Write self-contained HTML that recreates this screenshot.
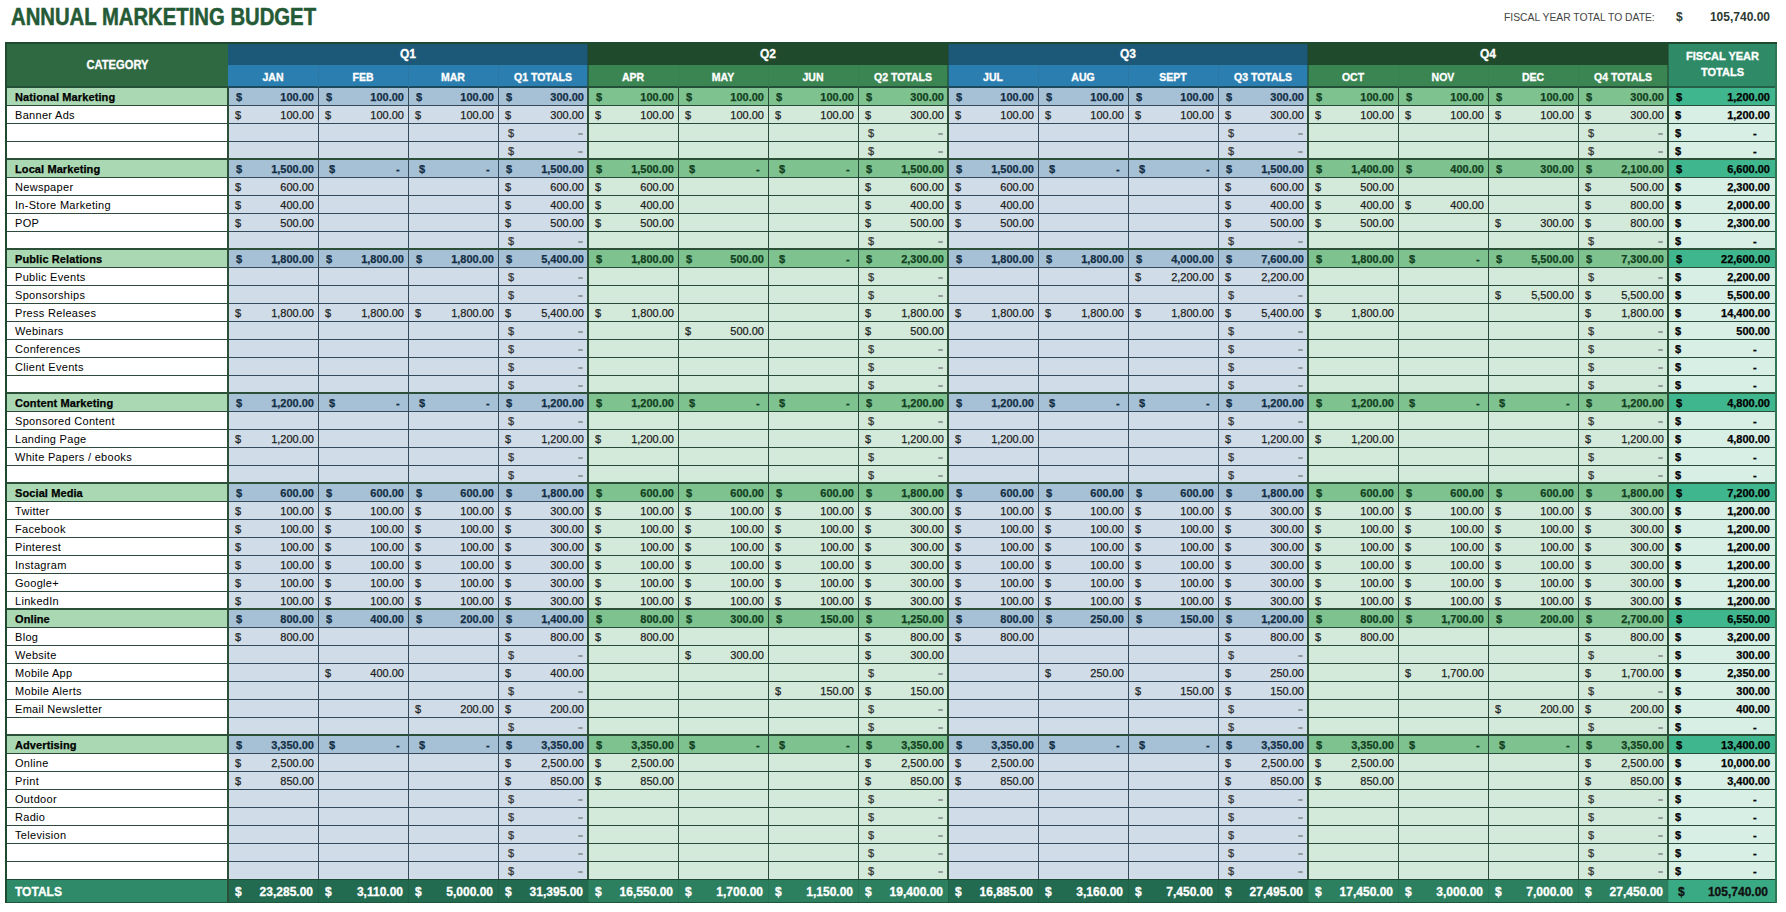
<!DOCTYPE html><html><head><meta charset="utf-8"><style>
*{margin:0;padding:0;box-sizing:border-box}
html,body{width:1786px;height:912px;overflow:hidden;background:#fff;font-family:"Liberation Sans",sans-serif;position:relative}
div,p,span{position:absolute}
.h{color:#fff;-webkit-text-stroke:0.3px #fff;font-weight:bold;font-size:10.5px;text-align:center;line-height:22px;height:22px}
.w{height:18px;line-height:18px;font-size:11px;white-space:nowrap;-webkit-text-stroke:0.25px currentColor}
.L{left:15px;letter-spacing:0.3px}
.L.B{letter-spacing:0.1px}
.L.W{-webkit-text-stroke:0}
.d{}
.n{text-align:right}
.B{font-weight:bold}
.bt{color:#142f45;font-weight:bold}
.gt{color:#124020;font-weight:bold}
.it{color:#1e1e1e}
.em{color:#333}
.ds{width:5px;height:2px;background:#949c9e;border-radius:1px}
.T{height:24px;line-height:26px;font-size:12px;font-weight:bold;color:#fff;white-space:nowrap;-webkit-text-stroke:0.3px currentColor}
</style></head><body>
<div style="left:11px;top:4px;font-size:23px;font-weight:bold;color:#245a36;line-height:26px;white-space:nowrap;transform:scaleX(0.882);transform-origin:0 0;-webkit-text-stroke:0.5px #245a36">ANNUAL MARKETING BUDGET</div>
<div style="left:1504px;top:9px;font-size:11px;color:#444;line-height:16px;white-space:nowrap;transform:scaleX(0.94);transform-origin:0 0">FISCAL YEAR TOTAL TO DATE:</div>
<div style="left:1676px;top:9px;font-size:12px;font-weight:bold;color:#2c3a32;line-height:16px">$</div>
<div style="left:1690px;width:80px;text-align:right;top:9px;font-size:12px;font-weight:bold;color:#2c3a32;line-height:16px">105,740.00</div>
<div style="left:5px;top:42px;width:223px;height:45px;background:#2e6941"></div>
<div style="left:228px;top:42px;width:360px;height:23px;background:#1c5878"></div>
<div style="left:228px;top:65px;width:360px;height:22px;background:#2b7eb0"></div>
<div style="left:588px;top:42px;width:360px;height:23px;background:#1f4a2b"></div>
<div style="left:588px;top:65px;width:360px;height:22px;background:#3a8552"></div>
<div style="left:948px;top:42px;width:360px;height:23px;background:#1c5878"></div>
<div style="left:948px;top:65px;width:360px;height:22px;background:#2b7eb0"></div>
<div style="left:1308px;top:42px;width:360px;height:23px;background:#1f4a2b"></div>
<div style="left:1308px;top:65px;width:360px;height:22px;background:#3a8552"></div>
<div style="left:1668px;top:42px;width:109px;height:45px;background:#2f8a68"></div>
<div style="left:5px;top:87px;width:223px;height:792px;background:#ffffff"></div>
<div style="left:228px;top:87px;width:360px;height:792px;background:#d0dde8"></div>
<div style="left:588px;top:87px;width:360px;height:792px;background:#d3eada"></div>
<div style="left:948px;top:87px;width:360px;height:792px;background:#d0dde8"></div>
<div style="left:1308px;top:87px;width:360px;height:792px;background:#d3eada"></div>
<div style="left:1668px;top:87px;width:109px;height:792px;background:#d8efe6"></div>
<div style="left:5px;top:87px;width:1772px;height:18px;background:linear-gradient(to right,#a9d8b2 0,#a9d8b2 223px,#a6c1d6 223px,#a6c1d6 583px,#7ec290 583px,#7ec290 943px,#a6c1d6 943px,#a6c1d6 1303px,#7ec290 1303px,#7ec290 1663px,#3fb68e 1663px)"></div>
<div style="left:5px;top:159px;width:1772px;height:18px;background:linear-gradient(to right,#a9d8b2 0,#a9d8b2 223px,#a6c1d6 223px,#a6c1d6 583px,#7ec290 583px,#7ec290 943px,#a6c1d6 943px,#a6c1d6 1303px,#7ec290 1303px,#7ec290 1663px,#3fb68e 1663px)"></div>
<div style="left:5px;top:249px;width:1772px;height:18px;background:linear-gradient(to right,#a9d8b2 0,#a9d8b2 223px,#a6c1d6 223px,#a6c1d6 583px,#7ec290 583px,#7ec290 943px,#a6c1d6 943px,#a6c1d6 1303px,#7ec290 1303px,#7ec290 1663px,#3fb68e 1663px)"></div>
<div style="left:5px;top:393px;width:1772px;height:18px;background:linear-gradient(to right,#a9d8b2 0,#a9d8b2 223px,#a6c1d6 223px,#a6c1d6 583px,#7ec290 583px,#7ec290 943px,#a6c1d6 943px,#a6c1d6 1303px,#7ec290 1303px,#7ec290 1663px,#3fb68e 1663px)"></div>
<div style="left:5px;top:483px;width:1772px;height:18px;background:linear-gradient(to right,#a9d8b2 0,#a9d8b2 223px,#a6c1d6 223px,#a6c1d6 583px,#7ec290 583px,#7ec290 943px,#a6c1d6 943px,#a6c1d6 1303px,#7ec290 1303px,#7ec290 1663px,#3fb68e 1663px)"></div>
<div style="left:5px;top:609px;width:1772px;height:18px;background:linear-gradient(to right,#a9d8b2 0,#a9d8b2 223px,#a6c1d6 223px,#a6c1d6 583px,#7ec290 583px,#7ec290 943px,#a6c1d6 943px,#a6c1d6 1303px,#7ec290 1303px,#7ec290 1663px,#3fb68e 1663px)"></div>
<div style="left:5px;top:735px;width:1772px;height:18px;background:linear-gradient(to right,#a9d8b2 0,#a9d8b2 223px,#a6c1d6 223px,#a6c1d6 583px,#7ec290 583px,#7ec290 943px,#a6c1d6 943px,#a6c1d6 1303px,#7ec290 1303px,#7ec290 1663px,#3fb68e 1663px)"></div>
<div style="left:5px;top:879px;width:1772px;height:24px;background:linear-gradient(to right,#2e8a68 0,#2e8a68 223px,#226a50 223px,#226a50 583px,#2c8060 583px,#2c8060 943px,#226a50 943px,#226a50 1303px,#2c8060 1303px,#2c8060 1663px,#3aaa85 1663px)"></div>
<div style="left:5px;top:86px;width:1772px;height:2px;background:linear-gradient(to right,#24503a 0,#24503a 223px,#1f4a5e 223px,#1f4a5e 583px,#24503a 583px,#24503a 943px,#1f4a5e 943px,#1f4a5e 1303px,#24503a 1303px,#24503a 1663px,#24604a 1663px)"></div>
<div style="left:5px;top:105px;width:1772px;height:1px;background:linear-gradient(to right,#2e4a3c 0,#2e4a3c 223px,#34495a 223px,#34495a 583px,#28483a 583px,#28483a 943px,#34495a 943px,#34495a 1303px,#28483a 1303px,#28483a 1663px,#2a4c3c 1663px)"></div>
<div style="left:5px;top:123px;width:1772px;height:1px;background:linear-gradient(to right,#2e4a3c 0,#2e4a3c 223px,#34495a 223px,#34495a 583px,#28483a 583px,#28483a 943px,#34495a 943px,#34495a 1303px,#28483a 1303px,#28483a 1663px,#2a4c3c 1663px)"></div>
<div style="left:5px;top:141px;width:1772px;height:1px;background:linear-gradient(to right,#2e4a3c 0,#2e4a3c 223px,#34495a 223px,#34495a 583px,#28483a 583px,#28483a 943px,#34495a 943px,#34495a 1303px,#28483a 1303px,#28483a 1663px,#2a4c3c 1663px)"></div>
<div style="left:5px;top:158px;width:1772px;height:2px;background:#2c4f37"></div>
<div style="left:5px;top:177px;width:1772px;height:1px;background:linear-gradient(to right,#2e4a3c 0,#2e4a3c 223px,#34495a 223px,#34495a 583px,#28483a 583px,#28483a 943px,#34495a 943px,#34495a 1303px,#28483a 1303px,#28483a 1663px,#2a4c3c 1663px)"></div>
<div style="left:5px;top:195px;width:1772px;height:1px;background:linear-gradient(to right,#2e4a3c 0,#2e4a3c 223px,#34495a 223px,#34495a 583px,#28483a 583px,#28483a 943px,#34495a 943px,#34495a 1303px,#28483a 1303px,#28483a 1663px,#2a4c3c 1663px)"></div>
<div style="left:5px;top:213px;width:1772px;height:1px;background:linear-gradient(to right,#2e4a3c 0,#2e4a3c 223px,#34495a 223px,#34495a 583px,#28483a 583px,#28483a 943px,#34495a 943px,#34495a 1303px,#28483a 1303px,#28483a 1663px,#2a4c3c 1663px)"></div>
<div style="left:5px;top:231px;width:1772px;height:1px;background:linear-gradient(to right,#2e4a3c 0,#2e4a3c 223px,#34495a 223px,#34495a 583px,#28483a 583px,#28483a 943px,#34495a 943px,#34495a 1303px,#28483a 1303px,#28483a 1663px,#2a4c3c 1663px)"></div>
<div style="left:5px;top:248px;width:1772px;height:2px;background:#2c4f37"></div>
<div style="left:5px;top:267px;width:1772px;height:1px;background:linear-gradient(to right,#2e4a3c 0,#2e4a3c 223px,#34495a 223px,#34495a 583px,#28483a 583px,#28483a 943px,#34495a 943px,#34495a 1303px,#28483a 1303px,#28483a 1663px,#2a4c3c 1663px)"></div>
<div style="left:5px;top:285px;width:1772px;height:1px;background:linear-gradient(to right,#2e4a3c 0,#2e4a3c 223px,#34495a 223px,#34495a 583px,#28483a 583px,#28483a 943px,#34495a 943px,#34495a 1303px,#28483a 1303px,#28483a 1663px,#2a4c3c 1663px)"></div>
<div style="left:5px;top:303px;width:1772px;height:1px;background:linear-gradient(to right,#2e4a3c 0,#2e4a3c 223px,#34495a 223px,#34495a 583px,#28483a 583px,#28483a 943px,#34495a 943px,#34495a 1303px,#28483a 1303px,#28483a 1663px,#2a4c3c 1663px)"></div>
<div style="left:5px;top:321px;width:1772px;height:1px;background:linear-gradient(to right,#2e4a3c 0,#2e4a3c 223px,#34495a 223px,#34495a 583px,#28483a 583px,#28483a 943px,#34495a 943px,#34495a 1303px,#28483a 1303px,#28483a 1663px,#2a4c3c 1663px)"></div>
<div style="left:5px;top:339px;width:1772px;height:1px;background:linear-gradient(to right,#2e4a3c 0,#2e4a3c 223px,#34495a 223px,#34495a 583px,#28483a 583px,#28483a 943px,#34495a 943px,#34495a 1303px,#28483a 1303px,#28483a 1663px,#2a4c3c 1663px)"></div>
<div style="left:5px;top:357px;width:1772px;height:1px;background:linear-gradient(to right,#2e4a3c 0,#2e4a3c 223px,#34495a 223px,#34495a 583px,#28483a 583px,#28483a 943px,#34495a 943px,#34495a 1303px,#28483a 1303px,#28483a 1663px,#2a4c3c 1663px)"></div>
<div style="left:5px;top:375px;width:1772px;height:1px;background:linear-gradient(to right,#2e4a3c 0,#2e4a3c 223px,#34495a 223px,#34495a 583px,#28483a 583px,#28483a 943px,#34495a 943px,#34495a 1303px,#28483a 1303px,#28483a 1663px,#2a4c3c 1663px)"></div>
<div style="left:5px;top:392px;width:1772px;height:2px;background:#2c4f37"></div>
<div style="left:5px;top:411px;width:1772px;height:1px;background:linear-gradient(to right,#2e4a3c 0,#2e4a3c 223px,#34495a 223px,#34495a 583px,#28483a 583px,#28483a 943px,#34495a 943px,#34495a 1303px,#28483a 1303px,#28483a 1663px,#2a4c3c 1663px)"></div>
<div style="left:5px;top:429px;width:1772px;height:1px;background:linear-gradient(to right,#2e4a3c 0,#2e4a3c 223px,#34495a 223px,#34495a 583px,#28483a 583px,#28483a 943px,#34495a 943px,#34495a 1303px,#28483a 1303px,#28483a 1663px,#2a4c3c 1663px)"></div>
<div style="left:5px;top:447px;width:1772px;height:1px;background:linear-gradient(to right,#2e4a3c 0,#2e4a3c 223px,#34495a 223px,#34495a 583px,#28483a 583px,#28483a 943px,#34495a 943px,#34495a 1303px,#28483a 1303px,#28483a 1663px,#2a4c3c 1663px)"></div>
<div style="left:5px;top:465px;width:1772px;height:1px;background:linear-gradient(to right,#2e4a3c 0,#2e4a3c 223px,#34495a 223px,#34495a 583px,#28483a 583px,#28483a 943px,#34495a 943px,#34495a 1303px,#28483a 1303px,#28483a 1663px,#2a4c3c 1663px)"></div>
<div style="left:5px;top:482px;width:1772px;height:2px;background:#2c4f37"></div>
<div style="left:5px;top:501px;width:1772px;height:1px;background:linear-gradient(to right,#2e4a3c 0,#2e4a3c 223px,#34495a 223px,#34495a 583px,#28483a 583px,#28483a 943px,#34495a 943px,#34495a 1303px,#28483a 1303px,#28483a 1663px,#2a4c3c 1663px)"></div>
<div style="left:5px;top:519px;width:1772px;height:1px;background:linear-gradient(to right,#2e4a3c 0,#2e4a3c 223px,#34495a 223px,#34495a 583px,#28483a 583px,#28483a 943px,#34495a 943px,#34495a 1303px,#28483a 1303px,#28483a 1663px,#2a4c3c 1663px)"></div>
<div style="left:5px;top:537px;width:1772px;height:1px;background:linear-gradient(to right,#2e4a3c 0,#2e4a3c 223px,#34495a 223px,#34495a 583px,#28483a 583px,#28483a 943px,#34495a 943px,#34495a 1303px,#28483a 1303px,#28483a 1663px,#2a4c3c 1663px)"></div>
<div style="left:5px;top:555px;width:1772px;height:1px;background:linear-gradient(to right,#2e4a3c 0,#2e4a3c 223px,#34495a 223px,#34495a 583px,#28483a 583px,#28483a 943px,#34495a 943px,#34495a 1303px,#28483a 1303px,#28483a 1663px,#2a4c3c 1663px)"></div>
<div style="left:5px;top:573px;width:1772px;height:1px;background:linear-gradient(to right,#2e4a3c 0,#2e4a3c 223px,#34495a 223px,#34495a 583px,#28483a 583px,#28483a 943px,#34495a 943px,#34495a 1303px,#28483a 1303px,#28483a 1663px,#2a4c3c 1663px)"></div>
<div style="left:5px;top:591px;width:1772px;height:1px;background:linear-gradient(to right,#2e4a3c 0,#2e4a3c 223px,#34495a 223px,#34495a 583px,#28483a 583px,#28483a 943px,#34495a 943px,#34495a 1303px,#28483a 1303px,#28483a 1663px,#2a4c3c 1663px)"></div>
<div style="left:5px;top:608px;width:1772px;height:2px;background:#2c4f37"></div>
<div style="left:5px;top:627px;width:1772px;height:1px;background:linear-gradient(to right,#2e4a3c 0,#2e4a3c 223px,#34495a 223px,#34495a 583px,#28483a 583px,#28483a 943px,#34495a 943px,#34495a 1303px,#28483a 1303px,#28483a 1663px,#2a4c3c 1663px)"></div>
<div style="left:5px;top:645px;width:1772px;height:1px;background:linear-gradient(to right,#2e4a3c 0,#2e4a3c 223px,#34495a 223px,#34495a 583px,#28483a 583px,#28483a 943px,#34495a 943px,#34495a 1303px,#28483a 1303px,#28483a 1663px,#2a4c3c 1663px)"></div>
<div style="left:5px;top:663px;width:1772px;height:1px;background:linear-gradient(to right,#2e4a3c 0,#2e4a3c 223px,#34495a 223px,#34495a 583px,#28483a 583px,#28483a 943px,#34495a 943px,#34495a 1303px,#28483a 1303px,#28483a 1663px,#2a4c3c 1663px)"></div>
<div style="left:5px;top:681px;width:1772px;height:1px;background:linear-gradient(to right,#2e4a3c 0,#2e4a3c 223px,#34495a 223px,#34495a 583px,#28483a 583px,#28483a 943px,#34495a 943px,#34495a 1303px,#28483a 1303px,#28483a 1663px,#2a4c3c 1663px)"></div>
<div style="left:5px;top:699px;width:1772px;height:1px;background:linear-gradient(to right,#2e4a3c 0,#2e4a3c 223px,#34495a 223px,#34495a 583px,#28483a 583px,#28483a 943px,#34495a 943px,#34495a 1303px,#28483a 1303px,#28483a 1663px,#2a4c3c 1663px)"></div>
<div style="left:5px;top:717px;width:1772px;height:1px;background:linear-gradient(to right,#2e4a3c 0,#2e4a3c 223px,#34495a 223px,#34495a 583px,#28483a 583px,#28483a 943px,#34495a 943px,#34495a 1303px,#28483a 1303px,#28483a 1663px,#2a4c3c 1663px)"></div>
<div style="left:5px;top:734px;width:1772px;height:2px;background:#2c4f37"></div>
<div style="left:5px;top:753px;width:1772px;height:1px;background:linear-gradient(to right,#2e4a3c 0,#2e4a3c 223px,#34495a 223px,#34495a 583px,#28483a 583px,#28483a 943px,#34495a 943px,#34495a 1303px,#28483a 1303px,#28483a 1663px,#2a4c3c 1663px)"></div>
<div style="left:5px;top:771px;width:1772px;height:1px;background:linear-gradient(to right,#2e4a3c 0,#2e4a3c 223px,#34495a 223px,#34495a 583px,#28483a 583px,#28483a 943px,#34495a 943px,#34495a 1303px,#28483a 1303px,#28483a 1663px,#2a4c3c 1663px)"></div>
<div style="left:5px;top:789px;width:1772px;height:1px;background:linear-gradient(to right,#2e4a3c 0,#2e4a3c 223px,#34495a 223px,#34495a 583px,#28483a 583px,#28483a 943px,#34495a 943px,#34495a 1303px,#28483a 1303px,#28483a 1663px,#2a4c3c 1663px)"></div>
<div style="left:5px;top:807px;width:1772px;height:1px;background:linear-gradient(to right,#2e4a3c 0,#2e4a3c 223px,#34495a 223px,#34495a 583px,#28483a 583px,#28483a 943px,#34495a 943px,#34495a 1303px,#28483a 1303px,#28483a 1663px,#2a4c3c 1663px)"></div>
<div style="left:5px;top:825px;width:1772px;height:1px;background:linear-gradient(to right,#2e4a3c 0,#2e4a3c 223px,#34495a 223px,#34495a 583px,#28483a 583px,#28483a 943px,#34495a 943px,#34495a 1303px,#28483a 1303px,#28483a 1663px,#2a4c3c 1663px)"></div>
<div style="left:5px;top:843px;width:1772px;height:1px;background:linear-gradient(to right,#2e4a3c 0,#2e4a3c 223px,#34495a 223px,#34495a 583px,#28483a 583px,#28483a 943px,#34495a 943px,#34495a 1303px,#28483a 1303px,#28483a 1663px,#2a4c3c 1663px)"></div>
<div style="left:5px;top:861px;width:1772px;height:1px;background:linear-gradient(to right,#2e4a3c 0,#2e4a3c 223px,#34495a 223px,#34495a 583px,#28483a 583px,#28483a 943px,#34495a 943px,#34495a 1303px,#28483a 1303px,#28483a 1663px,#2a4c3c 1663px)"></div>
<div style="left:5px;top:879px;width:1772px;height:1px;background:#1e4a35"></div>
<div style="left:5px;top:902px;width:1772px;height:1px;background:#23553c"></div>
<div style="left:318px;top:87px;width:1px;height:792px;background:#34495a"></div>
<div style="left:318px;top:879px;width:1px;height:24px;background:rgba(0,0,0,0.08)"></div>
<div style="left:408px;top:87px;width:1px;height:792px;background:#34495a"></div>
<div style="left:408px;top:879px;width:1px;height:24px;background:rgba(0,0,0,0.08)"></div>
<div style="left:498px;top:87px;width:1px;height:792px;background:#34495a"></div>
<div style="left:498px;top:879px;width:1px;height:24px;background:rgba(0,0,0,0.08)"></div>
<div style="left:587px;top:87px;width:2px;height:792px;background:#2c4f37"></div>
<div style="left:588px;top:879px;width:1px;height:24px;background:rgba(0,0,0,0.08)"></div>
<div style="left:678px;top:87px;width:1px;height:792px;background:#28483a"></div>
<div style="left:678px;top:879px;width:1px;height:24px;background:rgba(0,0,0,0.08)"></div>
<div style="left:768px;top:87px;width:1px;height:792px;background:#28483a"></div>
<div style="left:768px;top:879px;width:1px;height:24px;background:rgba(0,0,0,0.08)"></div>
<div style="left:858px;top:87px;width:1px;height:792px;background:#28483a"></div>
<div style="left:858px;top:879px;width:1px;height:24px;background:rgba(0,0,0,0.08)"></div>
<div style="left:947px;top:87px;width:2px;height:792px;background:#2c4f37"></div>
<div style="left:948px;top:879px;width:1px;height:24px;background:rgba(0,0,0,0.08)"></div>
<div style="left:1038px;top:87px;width:1px;height:792px;background:#34495a"></div>
<div style="left:1038px;top:879px;width:1px;height:24px;background:rgba(0,0,0,0.08)"></div>
<div style="left:1128px;top:87px;width:1px;height:792px;background:#34495a"></div>
<div style="left:1128px;top:879px;width:1px;height:24px;background:rgba(0,0,0,0.08)"></div>
<div style="left:1218px;top:87px;width:1px;height:792px;background:#34495a"></div>
<div style="left:1218px;top:879px;width:1px;height:24px;background:rgba(0,0,0,0.08)"></div>
<div style="left:1307px;top:87px;width:2px;height:792px;background:#2c4f37"></div>
<div style="left:1308px;top:879px;width:1px;height:24px;background:rgba(0,0,0,0.08)"></div>
<div style="left:1398px;top:87px;width:1px;height:792px;background:#28483a"></div>
<div style="left:1398px;top:879px;width:1px;height:24px;background:rgba(0,0,0,0.08)"></div>
<div style="left:1488px;top:87px;width:1px;height:792px;background:#28483a"></div>
<div style="left:1488px;top:879px;width:1px;height:24px;background:rgba(0,0,0,0.08)"></div>
<div style="left:1578px;top:87px;width:1px;height:792px;background:#28483a"></div>
<div style="left:1578px;top:879px;width:1px;height:24px;background:rgba(0,0,0,0.08)"></div>
<div style="left:1667px;top:87px;width:2px;height:792px;background:#2c4f37"></div>
<div style="left:1668px;top:879px;width:1px;height:24px;background:rgba(0,0,0,0.08)"></div>
<div style="left:227px;top:87px;width:2px;height:816px;background:#2c4f37"></div>
<div style="left:5px;top:42px;width:2px;height:861px;background:#1f4a30"></div>
<div style="left:1775px;top:42px;width:2px;height:861px;background:#2f7656"></div>
<div style="left:5px;top:42px;width:1772px;height:2px;background:#1f4a30"></div>
<div style="left:587px;top:44px;width:2px;height:43px;background:rgba(30,70,45,0.55)"></div>
<div style="left:947px;top:44px;width:2px;height:43px;background:rgba(30,70,45,0.55)"></div>
<div style="left:1307px;top:44px;width:2px;height:43px;background:rgba(30,70,45,0.55)"></div>
<div style="left:1667px;top:44px;width:2px;height:43px;background:rgba(30,70,45,0.55)"></div>
<div class="h" style="left:7px;top:54px;width:221px;font-size:12px;transform:scaleX(0.93)">CATEGORY</div>
<div class="h" style="left:228px;top:43px;width:360px;font-size:12px">Q1</div>
<div class="h" style="left:588px;top:43px;width:360px;font-size:12px">Q2</div>
<div class="h" style="left:948px;top:43px;width:360px;font-size:12px">Q3</div>
<div class="h" style="left:1308px;top:43px;width:360px;font-size:12px">Q4</div>
<div class="h" style="left:228px;top:66px;width:90px">JAN</div>
<div class="h" style="left:318px;top:66px;width:90px">FEB</div>
<div style="left:318px;top:65px;width:1px;height:22px;background:#2b78a6"></div>
<div class="h" style="left:408px;top:66px;width:90px">MAR</div>
<div style="left:408px;top:65px;width:1px;height:22px;background:#2b78a6"></div>
<div class="h" style="left:498px;top:66px;width:90px">Q1 TOTALS</div>
<div style="left:498px;top:65px;width:1px;height:22px;background:#2b78a6"></div>
<div class="h" style="left:588px;top:66px;width:90px">APR</div>
<div class="h" style="left:678px;top:66px;width:90px">MAY</div>
<div style="left:678px;top:65px;width:1px;height:22px;background:#37814f"></div>
<div class="h" style="left:768px;top:66px;width:90px">JUN</div>
<div style="left:768px;top:65px;width:1px;height:22px;background:#37814f"></div>
<div class="h" style="left:858px;top:66px;width:90px">Q2 TOTALS</div>
<div style="left:858px;top:65px;width:1px;height:22px;background:#37814f"></div>
<div class="h" style="left:948px;top:66px;width:90px">JUL</div>
<div class="h" style="left:1038px;top:66px;width:90px">AUG</div>
<div style="left:1038px;top:65px;width:1px;height:22px;background:#2b78a6"></div>
<div class="h" style="left:1128px;top:66px;width:90px">SEPT</div>
<div style="left:1128px;top:65px;width:1px;height:22px;background:#2b78a6"></div>
<div class="h" style="left:1218px;top:66px;width:90px">Q3 TOTALS</div>
<div style="left:1218px;top:65px;width:1px;height:22px;background:#2b78a6"></div>
<div class="h" style="left:1308px;top:66px;width:90px">OCT</div>
<div class="h" style="left:1398px;top:66px;width:90px">NOV</div>
<div style="left:1398px;top:65px;width:1px;height:22px;background:#37814f"></div>
<div class="h" style="left:1488px;top:66px;width:90px">DEC</div>
<div style="left:1488px;top:65px;width:1px;height:22px;background:#37814f"></div>
<div class="h" style="left:1578px;top:66px;width:90px">Q4 TOTALS</div>
<div style="left:1578px;top:65px;width:1px;height:22px;background:#37814f"></div>
<div class="h" style="left:1668px;top:48px;width:109px;font-size:11px;line-height:16px;height:34px">FISCAL YEAR<br>TOTALS</div>
<p class="w L B" style="top:88px">National Marketing</p>
<p class="w bt" style="left:236px;top:88px">$</p>
<p class="w n bt" style="left:234px;width:80px;top:88px">100.00</p>
<p class="w bt" style="left:326px;top:88px">$</p>
<p class="w n bt" style="left:324px;width:80px;top:88px">100.00</p>
<p class="w bt" style="left:416px;top:88px">$</p>
<p class="w n bt" style="left:414px;width:80px;top:88px">100.00</p>
<p class="w bt" style="left:506px;top:88px">$</p>
<p class="w n bt" style="left:504px;width:80px;top:88px">300.00</p>
<p class="w gt" style="left:596px;top:88px">$</p>
<p class="w n gt" style="left:594px;width:80px;top:88px">100.00</p>
<p class="w gt" style="left:686px;top:88px">$</p>
<p class="w n gt" style="left:684px;width:80px;top:88px">100.00</p>
<p class="w gt" style="left:776px;top:88px">$</p>
<p class="w n gt" style="left:774px;width:80px;top:88px">100.00</p>
<p class="w gt" style="left:866px;top:88px">$</p>
<p class="w n gt" style="left:864px;width:80px;top:88px">300.00</p>
<p class="w bt" style="left:956px;top:88px">$</p>
<p class="w n bt" style="left:954px;width:80px;top:88px">100.00</p>
<p class="w bt" style="left:1046px;top:88px">$</p>
<p class="w n bt" style="left:1044px;width:80px;top:88px">100.00</p>
<p class="w bt" style="left:1136px;top:88px">$</p>
<p class="w n bt" style="left:1134px;width:80px;top:88px">100.00</p>
<p class="w bt" style="left:1226px;top:88px">$</p>
<p class="w n bt" style="left:1224px;width:80px;top:88px">300.00</p>
<p class="w gt" style="left:1316px;top:88px">$</p>
<p class="w n gt" style="left:1314px;width:80px;top:88px">100.00</p>
<p class="w gt" style="left:1406px;top:88px">$</p>
<p class="w n gt" style="left:1404px;width:80px;top:88px">100.00</p>
<p class="w gt" style="left:1496px;top:88px">$</p>
<p class="w n gt" style="left:1494px;width:80px;top:88px">100.00</p>
<p class="w gt" style="left:1586px;top:88px">$</p>
<p class="w n gt" style="left:1584px;width:80px;top:88px">300.00</p>
<p class="w B" style="left:1676px;top:88px">$</p>
<p class="w n B" style="left:1690px;width:80px;top:88px">1,200.00</p>
<p class="w L W" style="top:106px">Banner Ads</p>
<p class="w it" style="left:235px;top:106px">$</p>
<p class="w n it" style="left:234px;width:80px;top:106px">100.00</p>
<p class="w it" style="left:325px;top:106px">$</p>
<p class="w n it" style="left:324px;width:80px;top:106px">100.00</p>
<p class="w it" style="left:415px;top:106px">$</p>
<p class="w n it" style="left:414px;width:80px;top:106px">100.00</p>
<p class="w it" style="left:505px;top:106px">$</p>
<p class="w n it" style="left:504px;width:80px;top:106px">300.00</p>
<p class="w it" style="left:595px;top:106px">$</p>
<p class="w n it" style="left:594px;width:80px;top:106px">100.00</p>
<p class="w it" style="left:685px;top:106px">$</p>
<p class="w n it" style="left:684px;width:80px;top:106px">100.00</p>
<p class="w it" style="left:775px;top:106px">$</p>
<p class="w n it" style="left:774px;width:80px;top:106px">100.00</p>
<p class="w it" style="left:865px;top:106px">$</p>
<p class="w n it" style="left:864px;width:80px;top:106px">300.00</p>
<p class="w it" style="left:955px;top:106px">$</p>
<p class="w n it" style="left:954px;width:80px;top:106px">100.00</p>
<p class="w it" style="left:1045px;top:106px">$</p>
<p class="w n it" style="left:1044px;width:80px;top:106px">100.00</p>
<p class="w it" style="left:1135px;top:106px">$</p>
<p class="w n it" style="left:1134px;width:80px;top:106px">100.00</p>
<p class="w it" style="left:1225px;top:106px">$</p>
<p class="w n it" style="left:1224px;width:80px;top:106px">300.00</p>
<p class="w it" style="left:1315px;top:106px">$</p>
<p class="w n it" style="left:1314px;width:80px;top:106px">100.00</p>
<p class="w it" style="left:1405px;top:106px">$</p>
<p class="w n it" style="left:1404px;width:80px;top:106px">100.00</p>
<p class="w it" style="left:1495px;top:106px">$</p>
<p class="w n it" style="left:1494px;width:80px;top:106px">100.00</p>
<p class="w it" style="left:1585px;top:106px">$</p>
<p class="w n it" style="left:1584px;width:80px;top:106px">300.00</p>
<p class="w B" style="left:1675px;top:106px">$</p>
<p class="w n B" style="left:1690px;width:80px;top:106px">1,200.00</p>
<p class="w em" style="left:508px;top:124px">$</p>
<div class="ds" style="left:578px;top:133px"></div>
<p class="w em" style="left:868px;top:124px">$</p>
<div class="ds" style="left:938px;top:133px"></div>
<p class="w em" style="left:1228px;top:124px">$</p>
<div class="ds" style="left:1298px;top:133px"></div>
<p class="w em" style="left:1588px;top:124px">$</p>
<div class="ds" style="left:1658px;top:133px"></div>
<p class="w B" style="left:1675px;top:124px">$</p>
<p class="w B" style="left:1753px;top:124px">-</p>
<p class="w em" style="left:508px;top:142px">$</p>
<div class="ds" style="left:578px;top:151px"></div>
<p class="w em" style="left:868px;top:142px">$</p>
<div class="ds" style="left:938px;top:151px"></div>
<p class="w em" style="left:1228px;top:142px">$</p>
<div class="ds" style="left:1298px;top:151px"></div>
<p class="w em" style="left:1588px;top:142px">$</p>
<div class="ds" style="left:1658px;top:151px"></div>
<p class="w B" style="left:1675px;top:142px">$</p>
<p class="w B" style="left:1753px;top:142px">-</p>
<p class="w L B" style="top:160px">Local Marketing</p>
<p class="w bt" style="left:236px;top:160px">$</p>
<p class="w n bt" style="left:234px;width:80px;top:160px">1,500.00</p>
<p class="w bt" style="left:329px;top:160px">$</p>
<p class="w bt" style="left:396px;top:160px">-</p>
<p class="w bt" style="left:419px;top:160px">$</p>
<p class="w bt" style="left:486px;top:160px">-</p>
<p class="w bt" style="left:506px;top:160px">$</p>
<p class="w n bt" style="left:504px;width:80px;top:160px">1,500.00</p>
<p class="w gt" style="left:596px;top:160px">$</p>
<p class="w n gt" style="left:594px;width:80px;top:160px">1,500.00</p>
<p class="w gt" style="left:689px;top:160px">$</p>
<p class="w gt" style="left:756px;top:160px">-</p>
<p class="w gt" style="left:779px;top:160px">$</p>
<p class="w gt" style="left:846px;top:160px">-</p>
<p class="w gt" style="left:866px;top:160px">$</p>
<p class="w n gt" style="left:864px;width:80px;top:160px">1,500.00</p>
<p class="w bt" style="left:956px;top:160px">$</p>
<p class="w n bt" style="left:954px;width:80px;top:160px">1,500.00</p>
<p class="w bt" style="left:1049px;top:160px">$</p>
<p class="w bt" style="left:1116px;top:160px">-</p>
<p class="w bt" style="left:1139px;top:160px">$</p>
<p class="w bt" style="left:1206px;top:160px">-</p>
<p class="w bt" style="left:1226px;top:160px">$</p>
<p class="w n bt" style="left:1224px;width:80px;top:160px">1,500.00</p>
<p class="w gt" style="left:1316px;top:160px">$</p>
<p class="w n gt" style="left:1314px;width:80px;top:160px">1,400.00</p>
<p class="w gt" style="left:1406px;top:160px">$</p>
<p class="w n gt" style="left:1404px;width:80px;top:160px">400.00</p>
<p class="w gt" style="left:1496px;top:160px">$</p>
<p class="w n gt" style="left:1494px;width:80px;top:160px">300.00</p>
<p class="w gt" style="left:1586px;top:160px">$</p>
<p class="w n gt" style="left:1584px;width:80px;top:160px">2,100.00</p>
<p class="w B" style="left:1676px;top:160px">$</p>
<p class="w n B" style="left:1690px;width:80px;top:160px">6,600.00</p>
<p class="w L W" style="top:178px">Newspaper</p>
<p class="w it" style="left:235px;top:178px">$</p>
<p class="w n it" style="left:234px;width:80px;top:178px">600.00</p>
<p class="w it" style="left:505px;top:178px">$</p>
<p class="w n it" style="left:504px;width:80px;top:178px">600.00</p>
<p class="w it" style="left:595px;top:178px">$</p>
<p class="w n it" style="left:594px;width:80px;top:178px">600.00</p>
<p class="w it" style="left:865px;top:178px">$</p>
<p class="w n it" style="left:864px;width:80px;top:178px">600.00</p>
<p class="w it" style="left:955px;top:178px">$</p>
<p class="w n it" style="left:954px;width:80px;top:178px">600.00</p>
<p class="w it" style="left:1225px;top:178px">$</p>
<p class="w n it" style="left:1224px;width:80px;top:178px">600.00</p>
<p class="w it" style="left:1315px;top:178px">$</p>
<p class="w n it" style="left:1314px;width:80px;top:178px">500.00</p>
<p class="w it" style="left:1585px;top:178px">$</p>
<p class="w n it" style="left:1584px;width:80px;top:178px">500.00</p>
<p class="w B" style="left:1675px;top:178px">$</p>
<p class="w n B" style="left:1690px;width:80px;top:178px">2,300.00</p>
<p class="w L W" style="top:196px">In-Store Marketing</p>
<p class="w it" style="left:235px;top:196px">$</p>
<p class="w n it" style="left:234px;width:80px;top:196px">400.00</p>
<p class="w it" style="left:505px;top:196px">$</p>
<p class="w n it" style="left:504px;width:80px;top:196px">400.00</p>
<p class="w it" style="left:595px;top:196px">$</p>
<p class="w n it" style="left:594px;width:80px;top:196px">400.00</p>
<p class="w it" style="left:865px;top:196px">$</p>
<p class="w n it" style="left:864px;width:80px;top:196px">400.00</p>
<p class="w it" style="left:955px;top:196px">$</p>
<p class="w n it" style="left:954px;width:80px;top:196px">400.00</p>
<p class="w it" style="left:1225px;top:196px">$</p>
<p class="w n it" style="left:1224px;width:80px;top:196px">400.00</p>
<p class="w it" style="left:1315px;top:196px">$</p>
<p class="w n it" style="left:1314px;width:80px;top:196px">400.00</p>
<p class="w it" style="left:1405px;top:196px">$</p>
<p class="w n it" style="left:1404px;width:80px;top:196px">400.00</p>
<p class="w it" style="left:1585px;top:196px">$</p>
<p class="w n it" style="left:1584px;width:80px;top:196px">800.00</p>
<p class="w B" style="left:1675px;top:196px">$</p>
<p class="w n B" style="left:1690px;width:80px;top:196px">2,000.00</p>
<p class="w L W" style="top:214px">POP</p>
<p class="w it" style="left:235px;top:214px">$</p>
<p class="w n it" style="left:234px;width:80px;top:214px">500.00</p>
<p class="w it" style="left:505px;top:214px">$</p>
<p class="w n it" style="left:504px;width:80px;top:214px">500.00</p>
<p class="w it" style="left:595px;top:214px">$</p>
<p class="w n it" style="left:594px;width:80px;top:214px">500.00</p>
<p class="w it" style="left:865px;top:214px">$</p>
<p class="w n it" style="left:864px;width:80px;top:214px">500.00</p>
<p class="w it" style="left:955px;top:214px">$</p>
<p class="w n it" style="left:954px;width:80px;top:214px">500.00</p>
<p class="w it" style="left:1225px;top:214px">$</p>
<p class="w n it" style="left:1224px;width:80px;top:214px">500.00</p>
<p class="w it" style="left:1315px;top:214px">$</p>
<p class="w n it" style="left:1314px;width:80px;top:214px">500.00</p>
<p class="w it" style="left:1495px;top:214px">$</p>
<p class="w n it" style="left:1494px;width:80px;top:214px">300.00</p>
<p class="w it" style="left:1585px;top:214px">$</p>
<p class="w n it" style="left:1584px;width:80px;top:214px">800.00</p>
<p class="w B" style="left:1675px;top:214px">$</p>
<p class="w n B" style="left:1690px;width:80px;top:214px">2,300.00</p>
<p class="w em" style="left:508px;top:232px">$</p>
<div class="ds" style="left:578px;top:241px"></div>
<p class="w em" style="left:868px;top:232px">$</p>
<div class="ds" style="left:938px;top:241px"></div>
<p class="w em" style="left:1228px;top:232px">$</p>
<div class="ds" style="left:1298px;top:241px"></div>
<p class="w em" style="left:1588px;top:232px">$</p>
<div class="ds" style="left:1658px;top:241px"></div>
<p class="w B" style="left:1675px;top:232px">$</p>
<p class="w B" style="left:1753px;top:232px">-</p>
<p class="w L B" style="top:250px">Public Relations</p>
<p class="w bt" style="left:236px;top:250px">$</p>
<p class="w n bt" style="left:234px;width:80px;top:250px">1,800.00</p>
<p class="w bt" style="left:326px;top:250px">$</p>
<p class="w n bt" style="left:324px;width:80px;top:250px">1,800.00</p>
<p class="w bt" style="left:416px;top:250px">$</p>
<p class="w n bt" style="left:414px;width:80px;top:250px">1,800.00</p>
<p class="w bt" style="left:506px;top:250px">$</p>
<p class="w n bt" style="left:504px;width:80px;top:250px">5,400.00</p>
<p class="w gt" style="left:596px;top:250px">$</p>
<p class="w n gt" style="left:594px;width:80px;top:250px">1,800.00</p>
<p class="w gt" style="left:686px;top:250px">$</p>
<p class="w n gt" style="left:684px;width:80px;top:250px">500.00</p>
<p class="w gt" style="left:779px;top:250px">$</p>
<p class="w gt" style="left:846px;top:250px">-</p>
<p class="w gt" style="left:866px;top:250px">$</p>
<p class="w n gt" style="left:864px;width:80px;top:250px">2,300.00</p>
<p class="w bt" style="left:956px;top:250px">$</p>
<p class="w n bt" style="left:954px;width:80px;top:250px">1,800.00</p>
<p class="w bt" style="left:1046px;top:250px">$</p>
<p class="w n bt" style="left:1044px;width:80px;top:250px">1,800.00</p>
<p class="w bt" style="left:1136px;top:250px">$</p>
<p class="w n bt" style="left:1134px;width:80px;top:250px">4,000.00</p>
<p class="w bt" style="left:1226px;top:250px">$</p>
<p class="w n bt" style="left:1224px;width:80px;top:250px">7,600.00</p>
<p class="w gt" style="left:1316px;top:250px">$</p>
<p class="w n gt" style="left:1314px;width:80px;top:250px">1,800.00</p>
<p class="w gt" style="left:1409px;top:250px">$</p>
<p class="w gt" style="left:1476px;top:250px">-</p>
<p class="w gt" style="left:1496px;top:250px">$</p>
<p class="w n gt" style="left:1494px;width:80px;top:250px">5,500.00</p>
<p class="w gt" style="left:1586px;top:250px">$</p>
<p class="w n gt" style="left:1584px;width:80px;top:250px">7,300.00</p>
<p class="w B" style="left:1676px;top:250px">$</p>
<p class="w n B" style="left:1690px;width:80px;top:250px">22,600.00</p>
<p class="w L W" style="top:268px">Public Events</p>
<p class="w em" style="left:508px;top:268px">$</p>
<div class="ds" style="left:578px;top:277px"></div>
<p class="w em" style="left:868px;top:268px">$</p>
<div class="ds" style="left:938px;top:277px"></div>
<p class="w it" style="left:1135px;top:268px">$</p>
<p class="w n it" style="left:1134px;width:80px;top:268px">2,200.00</p>
<p class="w it" style="left:1225px;top:268px">$</p>
<p class="w n it" style="left:1224px;width:80px;top:268px">2,200.00</p>
<p class="w em" style="left:1588px;top:268px">$</p>
<div class="ds" style="left:1658px;top:277px"></div>
<p class="w B" style="left:1675px;top:268px">$</p>
<p class="w n B" style="left:1690px;width:80px;top:268px">2,200.00</p>
<p class="w L W" style="top:286px">Sponsorships</p>
<p class="w em" style="left:508px;top:286px">$</p>
<div class="ds" style="left:578px;top:295px"></div>
<p class="w em" style="left:868px;top:286px">$</p>
<div class="ds" style="left:938px;top:295px"></div>
<p class="w em" style="left:1228px;top:286px">$</p>
<div class="ds" style="left:1298px;top:295px"></div>
<p class="w it" style="left:1495px;top:286px">$</p>
<p class="w n it" style="left:1494px;width:80px;top:286px">5,500.00</p>
<p class="w it" style="left:1585px;top:286px">$</p>
<p class="w n it" style="left:1584px;width:80px;top:286px">5,500.00</p>
<p class="w B" style="left:1675px;top:286px">$</p>
<p class="w n B" style="left:1690px;width:80px;top:286px">5,500.00</p>
<p class="w L W" style="top:304px">Press Releases</p>
<p class="w it" style="left:235px;top:304px">$</p>
<p class="w n it" style="left:234px;width:80px;top:304px">1,800.00</p>
<p class="w it" style="left:325px;top:304px">$</p>
<p class="w n it" style="left:324px;width:80px;top:304px">1,800.00</p>
<p class="w it" style="left:415px;top:304px">$</p>
<p class="w n it" style="left:414px;width:80px;top:304px">1,800.00</p>
<p class="w it" style="left:505px;top:304px">$</p>
<p class="w n it" style="left:504px;width:80px;top:304px">5,400.00</p>
<p class="w it" style="left:595px;top:304px">$</p>
<p class="w n it" style="left:594px;width:80px;top:304px">1,800.00</p>
<p class="w it" style="left:865px;top:304px">$</p>
<p class="w n it" style="left:864px;width:80px;top:304px">1,800.00</p>
<p class="w it" style="left:955px;top:304px">$</p>
<p class="w n it" style="left:954px;width:80px;top:304px">1,800.00</p>
<p class="w it" style="left:1045px;top:304px">$</p>
<p class="w n it" style="left:1044px;width:80px;top:304px">1,800.00</p>
<p class="w it" style="left:1135px;top:304px">$</p>
<p class="w n it" style="left:1134px;width:80px;top:304px">1,800.00</p>
<p class="w it" style="left:1225px;top:304px">$</p>
<p class="w n it" style="left:1224px;width:80px;top:304px">5,400.00</p>
<p class="w it" style="left:1315px;top:304px">$</p>
<p class="w n it" style="left:1314px;width:80px;top:304px">1,800.00</p>
<p class="w it" style="left:1585px;top:304px">$</p>
<p class="w n it" style="left:1584px;width:80px;top:304px">1,800.00</p>
<p class="w B" style="left:1675px;top:304px">$</p>
<p class="w n B" style="left:1690px;width:80px;top:304px">14,400.00</p>
<p class="w L W" style="top:322px">Webinars</p>
<p class="w em" style="left:508px;top:322px">$</p>
<div class="ds" style="left:578px;top:331px"></div>
<p class="w it" style="left:685px;top:322px">$</p>
<p class="w n it" style="left:684px;width:80px;top:322px">500.00</p>
<p class="w it" style="left:865px;top:322px">$</p>
<p class="w n it" style="left:864px;width:80px;top:322px">500.00</p>
<p class="w em" style="left:1228px;top:322px">$</p>
<div class="ds" style="left:1298px;top:331px"></div>
<p class="w em" style="left:1588px;top:322px">$</p>
<div class="ds" style="left:1658px;top:331px"></div>
<p class="w B" style="left:1675px;top:322px">$</p>
<p class="w n B" style="left:1690px;width:80px;top:322px">500.00</p>
<p class="w L W" style="top:340px">Conferences</p>
<p class="w em" style="left:508px;top:340px">$</p>
<div class="ds" style="left:578px;top:349px"></div>
<p class="w em" style="left:868px;top:340px">$</p>
<div class="ds" style="left:938px;top:349px"></div>
<p class="w em" style="left:1228px;top:340px">$</p>
<div class="ds" style="left:1298px;top:349px"></div>
<p class="w em" style="left:1588px;top:340px">$</p>
<div class="ds" style="left:1658px;top:349px"></div>
<p class="w B" style="left:1675px;top:340px">$</p>
<p class="w B" style="left:1753px;top:340px">-</p>
<p class="w L W" style="top:358px">Client Events</p>
<p class="w em" style="left:508px;top:358px">$</p>
<div class="ds" style="left:578px;top:367px"></div>
<p class="w em" style="left:868px;top:358px">$</p>
<div class="ds" style="left:938px;top:367px"></div>
<p class="w em" style="left:1228px;top:358px">$</p>
<div class="ds" style="left:1298px;top:367px"></div>
<p class="w em" style="left:1588px;top:358px">$</p>
<div class="ds" style="left:1658px;top:367px"></div>
<p class="w B" style="left:1675px;top:358px">$</p>
<p class="w B" style="left:1753px;top:358px">-</p>
<p class="w em" style="left:508px;top:376px">$</p>
<div class="ds" style="left:578px;top:385px"></div>
<p class="w em" style="left:868px;top:376px">$</p>
<div class="ds" style="left:938px;top:385px"></div>
<p class="w em" style="left:1228px;top:376px">$</p>
<div class="ds" style="left:1298px;top:385px"></div>
<p class="w em" style="left:1588px;top:376px">$</p>
<div class="ds" style="left:1658px;top:385px"></div>
<p class="w B" style="left:1675px;top:376px">$</p>
<p class="w B" style="left:1753px;top:376px">-</p>
<p class="w L B" style="top:394px">Content Marketing</p>
<p class="w bt" style="left:236px;top:394px">$</p>
<p class="w n bt" style="left:234px;width:80px;top:394px">1,200.00</p>
<p class="w bt" style="left:329px;top:394px">$</p>
<p class="w bt" style="left:396px;top:394px">-</p>
<p class="w bt" style="left:419px;top:394px">$</p>
<p class="w bt" style="left:486px;top:394px">-</p>
<p class="w bt" style="left:506px;top:394px">$</p>
<p class="w n bt" style="left:504px;width:80px;top:394px">1,200.00</p>
<p class="w gt" style="left:596px;top:394px">$</p>
<p class="w n gt" style="left:594px;width:80px;top:394px">1,200.00</p>
<p class="w gt" style="left:689px;top:394px">$</p>
<p class="w gt" style="left:756px;top:394px">-</p>
<p class="w gt" style="left:779px;top:394px">$</p>
<p class="w gt" style="left:846px;top:394px">-</p>
<p class="w gt" style="left:866px;top:394px">$</p>
<p class="w n gt" style="left:864px;width:80px;top:394px">1,200.00</p>
<p class="w bt" style="left:956px;top:394px">$</p>
<p class="w n bt" style="left:954px;width:80px;top:394px">1,200.00</p>
<p class="w bt" style="left:1049px;top:394px">$</p>
<p class="w bt" style="left:1116px;top:394px">-</p>
<p class="w bt" style="left:1139px;top:394px">$</p>
<p class="w bt" style="left:1206px;top:394px">-</p>
<p class="w bt" style="left:1226px;top:394px">$</p>
<p class="w n bt" style="left:1224px;width:80px;top:394px">1,200.00</p>
<p class="w gt" style="left:1316px;top:394px">$</p>
<p class="w n gt" style="left:1314px;width:80px;top:394px">1,200.00</p>
<p class="w gt" style="left:1409px;top:394px">$</p>
<p class="w gt" style="left:1476px;top:394px">-</p>
<p class="w gt" style="left:1499px;top:394px">$</p>
<p class="w gt" style="left:1566px;top:394px">-</p>
<p class="w gt" style="left:1586px;top:394px">$</p>
<p class="w n gt" style="left:1584px;width:80px;top:394px">1,200.00</p>
<p class="w B" style="left:1676px;top:394px">$</p>
<p class="w n B" style="left:1690px;width:80px;top:394px">4,800.00</p>
<p class="w L W" style="top:412px">Sponsored Content</p>
<p class="w em" style="left:508px;top:412px">$</p>
<div class="ds" style="left:578px;top:421px"></div>
<p class="w em" style="left:868px;top:412px">$</p>
<div class="ds" style="left:938px;top:421px"></div>
<p class="w em" style="left:1228px;top:412px">$</p>
<div class="ds" style="left:1298px;top:421px"></div>
<p class="w em" style="left:1588px;top:412px">$</p>
<div class="ds" style="left:1658px;top:421px"></div>
<p class="w B" style="left:1675px;top:412px">$</p>
<p class="w B" style="left:1753px;top:412px">-</p>
<p class="w L W" style="top:430px">Landing Page</p>
<p class="w it" style="left:235px;top:430px">$</p>
<p class="w n it" style="left:234px;width:80px;top:430px">1,200.00</p>
<p class="w it" style="left:505px;top:430px">$</p>
<p class="w n it" style="left:504px;width:80px;top:430px">1,200.00</p>
<p class="w it" style="left:595px;top:430px">$</p>
<p class="w n it" style="left:594px;width:80px;top:430px">1,200.00</p>
<p class="w it" style="left:865px;top:430px">$</p>
<p class="w n it" style="left:864px;width:80px;top:430px">1,200.00</p>
<p class="w it" style="left:955px;top:430px">$</p>
<p class="w n it" style="left:954px;width:80px;top:430px">1,200.00</p>
<p class="w it" style="left:1225px;top:430px">$</p>
<p class="w n it" style="left:1224px;width:80px;top:430px">1,200.00</p>
<p class="w it" style="left:1315px;top:430px">$</p>
<p class="w n it" style="left:1314px;width:80px;top:430px">1,200.00</p>
<p class="w it" style="left:1585px;top:430px">$</p>
<p class="w n it" style="left:1584px;width:80px;top:430px">1,200.00</p>
<p class="w B" style="left:1675px;top:430px">$</p>
<p class="w n B" style="left:1690px;width:80px;top:430px">4,800.00</p>
<p class="w L W" style="top:448px">White Papers / ebooks</p>
<p class="w em" style="left:508px;top:448px">$</p>
<div class="ds" style="left:578px;top:457px"></div>
<p class="w em" style="left:868px;top:448px">$</p>
<div class="ds" style="left:938px;top:457px"></div>
<p class="w em" style="left:1228px;top:448px">$</p>
<div class="ds" style="left:1298px;top:457px"></div>
<p class="w em" style="left:1588px;top:448px">$</p>
<div class="ds" style="left:1658px;top:457px"></div>
<p class="w B" style="left:1675px;top:448px">$</p>
<p class="w B" style="left:1753px;top:448px">-</p>
<p class="w em" style="left:508px;top:466px">$</p>
<div class="ds" style="left:578px;top:475px"></div>
<p class="w em" style="left:868px;top:466px">$</p>
<div class="ds" style="left:938px;top:475px"></div>
<p class="w em" style="left:1228px;top:466px">$</p>
<div class="ds" style="left:1298px;top:475px"></div>
<p class="w em" style="left:1588px;top:466px">$</p>
<div class="ds" style="left:1658px;top:475px"></div>
<p class="w B" style="left:1675px;top:466px">$</p>
<p class="w B" style="left:1753px;top:466px">-</p>
<p class="w L B" style="top:484px">Social Media</p>
<p class="w bt" style="left:236px;top:484px">$</p>
<p class="w n bt" style="left:234px;width:80px;top:484px">600.00</p>
<p class="w bt" style="left:326px;top:484px">$</p>
<p class="w n bt" style="left:324px;width:80px;top:484px">600.00</p>
<p class="w bt" style="left:416px;top:484px">$</p>
<p class="w n bt" style="left:414px;width:80px;top:484px">600.00</p>
<p class="w bt" style="left:506px;top:484px">$</p>
<p class="w n bt" style="left:504px;width:80px;top:484px">1,800.00</p>
<p class="w gt" style="left:596px;top:484px">$</p>
<p class="w n gt" style="left:594px;width:80px;top:484px">600.00</p>
<p class="w gt" style="left:686px;top:484px">$</p>
<p class="w n gt" style="left:684px;width:80px;top:484px">600.00</p>
<p class="w gt" style="left:776px;top:484px">$</p>
<p class="w n gt" style="left:774px;width:80px;top:484px">600.00</p>
<p class="w gt" style="left:866px;top:484px">$</p>
<p class="w n gt" style="left:864px;width:80px;top:484px">1,800.00</p>
<p class="w bt" style="left:956px;top:484px">$</p>
<p class="w n bt" style="left:954px;width:80px;top:484px">600.00</p>
<p class="w bt" style="left:1046px;top:484px">$</p>
<p class="w n bt" style="left:1044px;width:80px;top:484px">600.00</p>
<p class="w bt" style="left:1136px;top:484px">$</p>
<p class="w n bt" style="left:1134px;width:80px;top:484px">600.00</p>
<p class="w bt" style="left:1226px;top:484px">$</p>
<p class="w n bt" style="left:1224px;width:80px;top:484px">1,800.00</p>
<p class="w gt" style="left:1316px;top:484px">$</p>
<p class="w n gt" style="left:1314px;width:80px;top:484px">600.00</p>
<p class="w gt" style="left:1406px;top:484px">$</p>
<p class="w n gt" style="left:1404px;width:80px;top:484px">600.00</p>
<p class="w gt" style="left:1496px;top:484px">$</p>
<p class="w n gt" style="left:1494px;width:80px;top:484px">600.00</p>
<p class="w gt" style="left:1586px;top:484px">$</p>
<p class="w n gt" style="left:1584px;width:80px;top:484px">1,800.00</p>
<p class="w B" style="left:1676px;top:484px">$</p>
<p class="w n B" style="left:1690px;width:80px;top:484px">7,200.00</p>
<p class="w L W" style="top:502px">Twitter</p>
<p class="w it" style="left:235px;top:502px">$</p>
<p class="w n it" style="left:234px;width:80px;top:502px">100.00</p>
<p class="w it" style="left:325px;top:502px">$</p>
<p class="w n it" style="left:324px;width:80px;top:502px">100.00</p>
<p class="w it" style="left:415px;top:502px">$</p>
<p class="w n it" style="left:414px;width:80px;top:502px">100.00</p>
<p class="w it" style="left:505px;top:502px">$</p>
<p class="w n it" style="left:504px;width:80px;top:502px">300.00</p>
<p class="w it" style="left:595px;top:502px">$</p>
<p class="w n it" style="left:594px;width:80px;top:502px">100.00</p>
<p class="w it" style="left:685px;top:502px">$</p>
<p class="w n it" style="left:684px;width:80px;top:502px">100.00</p>
<p class="w it" style="left:775px;top:502px">$</p>
<p class="w n it" style="left:774px;width:80px;top:502px">100.00</p>
<p class="w it" style="left:865px;top:502px">$</p>
<p class="w n it" style="left:864px;width:80px;top:502px">300.00</p>
<p class="w it" style="left:955px;top:502px">$</p>
<p class="w n it" style="left:954px;width:80px;top:502px">100.00</p>
<p class="w it" style="left:1045px;top:502px">$</p>
<p class="w n it" style="left:1044px;width:80px;top:502px">100.00</p>
<p class="w it" style="left:1135px;top:502px">$</p>
<p class="w n it" style="left:1134px;width:80px;top:502px">100.00</p>
<p class="w it" style="left:1225px;top:502px">$</p>
<p class="w n it" style="left:1224px;width:80px;top:502px">300.00</p>
<p class="w it" style="left:1315px;top:502px">$</p>
<p class="w n it" style="left:1314px;width:80px;top:502px">100.00</p>
<p class="w it" style="left:1405px;top:502px">$</p>
<p class="w n it" style="left:1404px;width:80px;top:502px">100.00</p>
<p class="w it" style="left:1495px;top:502px">$</p>
<p class="w n it" style="left:1494px;width:80px;top:502px">100.00</p>
<p class="w it" style="left:1585px;top:502px">$</p>
<p class="w n it" style="left:1584px;width:80px;top:502px">300.00</p>
<p class="w B" style="left:1675px;top:502px">$</p>
<p class="w n B" style="left:1690px;width:80px;top:502px">1,200.00</p>
<p class="w L W" style="top:520px">Facebook</p>
<p class="w it" style="left:235px;top:520px">$</p>
<p class="w n it" style="left:234px;width:80px;top:520px">100.00</p>
<p class="w it" style="left:325px;top:520px">$</p>
<p class="w n it" style="left:324px;width:80px;top:520px">100.00</p>
<p class="w it" style="left:415px;top:520px">$</p>
<p class="w n it" style="left:414px;width:80px;top:520px">100.00</p>
<p class="w it" style="left:505px;top:520px">$</p>
<p class="w n it" style="left:504px;width:80px;top:520px">300.00</p>
<p class="w it" style="left:595px;top:520px">$</p>
<p class="w n it" style="left:594px;width:80px;top:520px">100.00</p>
<p class="w it" style="left:685px;top:520px">$</p>
<p class="w n it" style="left:684px;width:80px;top:520px">100.00</p>
<p class="w it" style="left:775px;top:520px">$</p>
<p class="w n it" style="left:774px;width:80px;top:520px">100.00</p>
<p class="w it" style="left:865px;top:520px">$</p>
<p class="w n it" style="left:864px;width:80px;top:520px">300.00</p>
<p class="w it" style="left:955px;top:520px">$</p>
<p class="w n it" style="left:954px;width:80px;top:520px">100.00</p>
<p class="w it" style="left:1045px;top:520px">$</p>
<p class="w n it" style="left:1044px;width:80px;top:520px">100.00</p>
<p class="w it" style="left:1135px;top:520px">$</p>
<p class="w n it" style="left:1134px;width:80px;top:520px">100.00</p>
<p class="w it" style="left:1225px;top:520px">$</p>
<p class="w n it" style="left:1224px;width:80px;top:520px">300.00</p>
<p class="w it" style="left:1315px;top:520px">$</p>
<p class="w n it" style="left:1314px;width:80px;top:520px">100.00</p>
<p class="w it" style="left:1405px;top:520px">$</p>
<p class="w n it" style="left:1404px;width:80px;top:520px">100.00</p>
<p class="w it" style="left:1495px;top:520px">$</p>
<p class="w n it" style="left:1494px;width:80px;top:520px">100.00</p>
<p class="w it" style="left:1585px;top:520px">$</p>
<p class="w n it" style="left:1584px;width:80px;top:520px">300.00</p>
<p class="w B" style="left:1675px;top:520px">$</p>
<p class="w n B" style="left:1690px;width:80px;top:520px">1,200.00</p>
<p class="w L W" style="top:538px">Pinterest</p>
<p class="w it" style="left:235px;top:538px">$</p>
<p class="w n it" style="left:234px;width:80px;top:538px">100.00</p>
<p class="w it" style="left:325px;top:538px">$</p>
<p class="w n it" style="left:324px;width:80px;top:538px">100.00</p>
<p class="w it" style="left:415px;top:538px">$</p>
<p class="w n it" style="left:414px;width:80px;top:538px">100.00</p>
<p class="w it" style="left:505px;top:538px">$</p>
<p class="w n it" style="left:504px;width:80px;top:538px">300.00</p>
<p class="w it" style="left:595px;top:538px">$</p>
<p class="w n it" style="left:594px;width:80px;top:538px">100.00</p>
<p class="w it" style="left:685px;top:538px">$</p>
<p class="w n it" style="left:684px;width:80px;top:538px">100.00</p>
<p class="w it" style="left:775px;top:538px">$</p>
<p class="w n it" style="left:774px;width:80px;top:538px">100.00</p>
<p class="w it" style="left:865px;top:538px">$</p>
<p class="w n it" style="left:864px;width:80px;top:538px">300.00</p>
<p class="w it" style="left:955px;top:538px">$</p>
<p class="w n it" style="left:954px;width:80px;top:538px">100.00</p>
<p class="w it" style="left:1045px;top:538px">$</p>
<p class="w n it" style="left:1044px;width:80px;top:538px">100.00</p>
<p class="w it" style="left:1135px;top:538px">$</p>
<p class="w n it" style="left:1134px;width:80px;top:538px">100.00</p>
<p class="w it" style="left:1225px;top:538px">$</p>
<p class="w n it" style="left:1224px;width:80px;top:538px">300.00</p>
<p class="w it" style="left:1315px;top:538px">$</p>
<p class="w n it" style="left:1314px;width:80px;top:538px">100.00</p>
<p class="w it" style="left:1405px;top:538px">$</p>
<p class="w n it" style="left:1404px;width:80px;top:538px">100.00</p>
<p class="w it" style="left:1495px;top:538px">$</p>
<p class="w n it" style="left:1494px;width:80px;top:538px">100.00</p>
<p class="w it" style="left:1585px;top:538px">$</p>
<p class="w n it" style="left:1584px;width:80px;top:538px">300.00</p>
<p class="w B" style="left:1675px;top:538px">$</p>
<p class="w n B" style="left:1690px;width:80px;top:538px">1,200.00</p>
<p class="w L W" style="top:556px">Instagram</p>
<p class="w it" style="left:235px;top:556px">$</p>
<p class="w n it" style="left:234px;width:80px;top:556px">100.00</p>
<p class="w it" style="left:325px;top:556px">$</p>
<p class="w n it" style="left:324px;width:80px;top:556px">100.00</p>
<p class="w it" style="left:415px;top:556px">$</p>
<p class="w n it" style="left:414px;width:80px;top:556px">100.00</p>
<p class="w it" style="left:505px;top:556px">$</p>
<p class="w n it" style="left:504px;width:80px;top:556px">300.00</p>
<p class="w it" style="left:595px;top:556px">$</p>
<p class="w n it" style="left:594px;width:80px;top:556px">100.00</p>
<p class="w it" style="left:685px;top:556px">$</p>
<p class="w n it" style="left:684px;width:80px;top:556px">100.00</p>
<p class="w it" style="left:775px;top:556px">$</p>
<p class="w n it" style="left:774px;width:80px;top:556px">100.00</p>
<p class="w it" style="left:865px;top:556px">$</p>
<p class="w n it" style="left:864px;width:80px;top:556px">300.00</p>
<p class="w it" style="left:955px;top:556px">$</p>
<p class="w n it" style="left:954px;width:80px;top:556px">100.00</p>
<p class="w it" style="left:1045px;top:556px">$</p>
<p class="w n it" style="left:1044px;width:80px;top:556px">100.00</p>
<p class="w it" style="left:1135px;top:556px">$</p>
<p class="w n it" style="left:1134px;width:80px;top:556px">100.00</p>
<p class="w it" style="left:1225px;top:556px">$</p>
<p class="w n it" style="left:1224px;width:80px;top:556px">300.00</p>
<p class="w it" style="left:1315px;top:556px">$</p>
<p class="w n it" style="left:1314px;width:80px;top:556px">100.00</p>
<p class="w it" style="left:1405px;top:556px">$</p>
<p class="w n it" style="left:1404px;width:80px;top:556px">100.00</p>
<p class="w it" style="left:1495px;top:556px">$</p>
<p class="w n it" style="left:1494px;width:80px;top:556px">100.00</p>
<p class="w it" style="left:1585px;top:556px">$</p>
<p class="w n it" style="left:1584px;width:80px;top:556px">300.00</p>
<p class="w B" style="left:1675px;top:556px">$</p>
<p class="w n B" style="left:1690px;width:80px;top:556px">1,200.00</p>
<p class="w L W" style="top:574px">Google+</p>
<p class="w it" style="left:235px;top:574px">$</p>
<p class="w n it" style="left:234px;width:80px;top:574px">100.00</p>
<p class="w it" style="left:325px;top:574px">$</p>
<p class="w n it" style="left:324px;width:80px;top:574px">100.00</p>
<p class="w it" style="left:415px;top:574px">$</p>
<p class="w n it" style="left:414px;width:80px;top:574px">100.00</p>
<p class="w it" style="left:505px;top:574px">$</p>
<p class="w n it" style="left:504px;width:80px;top:574px">300.00</p>
<p class="w it" style="left:595px;top:574px">$</p>
<p class="w n it" style="left:594px;width:80px;top:574px">100.00</p>
<p class="w it" style="left:685px;top:574px">$</p>
<p class="w n it" style="left:684px;width:80px;top:574px">100.00</p>
<p class="w it" style="left:775px;top:574px">$</p>
<p class="w n it" style="left:774px;width:80px;top:574px">100.00</p>
<p class="w it" style="left:865px;top:574px">$</p>
<p class="w n it" style="left:864px;width:80px;top:574px">300.00</p>
<p class="w it" style="left:955px;top:574px">$</p>
<p class="w n it" style="left:954px;width:80px;top:574px">100.00</p>
<p class="w it" style="left:1045px;top:574px">$</p>
<p class="w n it" style="left:1044px;width:80px;top:574px">100.00</p>
<p class="w it" style="left:1135px;top:574px">$</p>
<p class="w n it" style="left:1134px;width:80px;top:574px">100.00</p>
<p class="w it" style="left:1225px;top:574px">$</p>
<p class="w n it" style="left:1224px;width:80px;top:574px">300.00</p>
<p class="w it" style="left:1315px;top:574px">$</p>
<p class="w n it" style="left:1314px;width:80px;top:574px">100.00</p>
<p class="w it" style="left:1405px;top:574px">$</p>
<p class="w n it" style="left:1404px;width:80px;top:574px">100.00</p>
<p class="w it" style="left:1495px;top:574px">$</p>
<p class="w n it" style="left:1494px;width:80px;top:574px">100.00</p>
<p class="w it" style="left:1585px;top:574px">$</p>
<p class="w n it" style="left:1584px;width:80px;top:574px">300.00</p>
<p class="w B" style="left:1675px;top:574px">$</p>
<p class="w n B" style="left:1690px;width:80px;top:574px">1,200.00</p>
<p class="w L W" style="top:592px">LinkedIn</p>
<p class="w it" style="left:235px;top:592px">$</p>
<p class="w n it" style="left:234px;width:80px;top:592px">100.00</p>
<p class="w it" style="left:325px;top:592px">$</p>
<p class="w n it" style="left:324px;width:80px;top:592px">100.00</p>
<p class="w it" style="left:415px;top:592px">$</p>
<p class="w n it" style="left:414px;width:80px;top:592px">100.00</p>
<p class="w it" style="left:505px;top:592px">$</p>
<p class="w n it" style="left:504px;width:80px;top:592px">300.00</p>
<p class="w it" style="left:595px;top:592px">$</p>
<p class="w n it" style="left:594px;width:80px;top:592px">100.00</p>
<p class="w it" style="left:685px;top:592px">$</p>
<p class="w n it" style="left:684px;width:80px;top:592px">100.00</p>
<p class="w it" style="left:775px;top:592px">$</p>
<p class="w n it" style="left:774px;width:80px;top:592px">100.00</p>
<p class="w it" style="left:865px;top:592px">$</p>
<p class="w n it" style="left:864px;width:80px;top:592px">300.00</p>
<p class="w it" style="left:955px;top:592px">$</p>
<p class="w n it" style="left:954px;width:80px;top:592px">100.00</p>
<p class="w it" style="left:1045px;top:592px">$</p>
<p class="w n it" style="left:1044px;width:80px;top:592px">100.00</p>
<p class="w it" style="left:1135px;top:592px">$</p>
<p class="w n it" style="left:1134px;width:80px;top:592px">100.00</p>
<p class="w it" style="left:1225px;top:592px">$</p>
<p class="w n it" style="left:1224px;width:80px;top:592px">300.00</p>
<p class="w it" style="left:1315px;top:592px">$</p>
<p class="w n it" style="left:1314px;width:80px;top:592px">100.00</p>
<p class="w it" style="left:1405px;top:592px">$</p>
<p class="w n it" style="left:1404px;width:80px;top:592px">100.00</p>
<p class="w it" style="left:1495px;top:592px">$</p>
<p class="w n it" style="left:1494px;width:80px;top:592px">100.00</p>
<p class="w it" style="left:1585px;top:592px">$</p>
<p class="w n it" style="left:1584px;width:80px;top:592px">300.00</p>
<p class="w B" style="left:1675px;top:592px">$</p>
<p class="w n B" style="left:1690px;width:80px;top:592px">1,200.00</p>
<p class="w L B" style="top:610px">Online</p>
<p class="w bt" style="left:236px;top:610px">$</p>
<p class="w n bt" style="left:234px;width:80px;top:610px">800.00</p>
<p class="w bt" style="left:326px;top:610px">$</p>
<p class="w n bt" style="left:324px;width:80px;top:610px">400.00</p>
<p class="w bt" style="left:416px;top:610px">$</p>
<p class="w n bt" style="left:414px;width:80px;top:610px">200.00</p>
<p class="w bt" style="left:506px;top:610px">$</p>
<p class="w n bt" style="left:504px;width:80px;top:610px">1,400.00</p>
<p class="w gt" style="left:596px;top:610px">$</p>
<p class="w n gt" style="left:594px;width:80px;top:610px">800.00</p>
<p class="w gt" style="left:686px;top:610px">$</p>
<p class="w n gt" style="left:684px;width:80px;top:610px">300.00</p>
<p class="w gt" style="left:776px;top:610px">$</p>
<p class="w n gt" style="left:774px;width:80px;top:610px">150.00</p>
<p class="w gt" style="left:866px;top:610px">$</p>
<p class="w n gt" style="left:864px;width:80px;top:610px">1,250.00</p>
<p class="w bt" style="left:956px;top:610px">$</p>
<p class="w n bt" style="left:954px;width:80px;top:610px">800.00</p>
<p class="w bt" style="left:1046px;top:610px">$</p>
<p class="w n bt" style="left:1044px;width:80px;top:610px">250.00</p>
<p class="w bt" style="left:1136px;top:610px">$</p>
<p class="w n bt" style="left:1134px;width:80px;top:610px">150.00</p>
<p class="w bt" style="left:1226px;top:610px">$</p>
<p class="w n bt" style="left:1224px;width:80px;top:610px">1,200.00</p>
<p class="w gt" style="left:1316px;top:610px">$</p>
<p class="w n gt" style="left:1314px;width:80px;top:610px">800.00</p>
<p class="w gt" style="left:1406px;top:610px">$</p>
<p class="w n gt" style="left:1404px;width:80px;top:610px">1,700.00</p>
<p class="w gt" style="left:1496px;top:610px">$</p>
<p class="w n gt" style="left:1494px;width:80px;top:610px">200.00</p>
<p class="w gt" style="left:1586px;top:610px">$</p>
<p class="w n gt" style="left:1584px;width:80px;top:610px">2,700.00</p>
<p class="w B" style="left:1676px;top:610px">$</p>
<p class="w n B" style="left:1690px;width:80px;top:610px">6,550.00</p>
<p class="w L W" style="top:628px">Blog</p>
<p class="w it" style="left:235px;top:628px">$</p>
<p class="w n it" style="left:234px;width:80px;top:628px">800.00</p>
<p class="w it" style="left:505px;top:628px">$</p>
<p class="w n it" style="left:504px;width:80px;top:628px">800.00</p>
<p class="w it" style="left:595px;top:628px">$</p>
<p class="w n it" style="left:594px;width:80px;top:628px">800.00</p>
<p class="w it" style="left:865px;top:628px">$</p>
<p class="w n it" style="left:864px;width:80px;top:628px">800.00</p>
<p class="w it" style="left:955px;top:628px">$</p>
<p class="w n it" style="left:954px;width:80px;top:628px">800.00</p>
<p class="w it" style="left:1225px;top:628px">$</p>
<p class="w n it" style="left:1224px;width:80px;top:628px">800.00</p>
<p class="w it" style="left:1315px;top:628px">$</p>
<p class="w n it" style="left:1314px;width:80px;top:628px">800.00</p>
<p class="w it" style="left:1585px;top:628px">$</p>
<p class="w n it" style="left:1584px;width:80px;top:628px">800.00</p>
<p class="w B" style="left:1675px;top:628px">$</p>
<p class="w n B" style="left:1690px;width:80px;top:628px">3,200.00</p>
<p class="w L W" style="top:646px">Website</p>
<p class="w em" style="left:508px;top:646px">$</p>
<div class="ds" style="left:578px;top:655px"></div>
<p class="w it" style="left:685px;top:646px">$</p>
<p class="w n it" style="left:684px;width:80px;top:646px">300.00</p>
<p class="w it" style="left:865px;top:646px">$</p>
<p class="w n it" style="left:864px;width:80px;top:646px">300.00</p>
<p class="w em" style="left:1228px;top:646px">$</p>
<div class="ds" style="left:1298px;top:655px"></div>
<p class="w em" style="left:1588px;top:646px">$</p>
<div class="ds" style="left:1658px;top:655px"></div>
<p class="w B" style="left:1675px;top:646px">$</p>
<p class="w n B" style="left:1690px;width:80px;top:646px">300.00</p>
<p class="w L W" style="top:664px">Mobile App</p>
<p class="w it" style="left:325px;top:664px">$</p>
<p class="w n it" style="left:324px;width:80px;top:664px">400.00</p>
<p class="w it" style="left:505px;top:664px">$</p>
<p class="w n it" style="left:504px;width:80px;top:664px">400.00</p>
<p class="w em" style="left:868px;top:664px">$</p>
<div class="ds" style="left:938px;top:673px"></div>
<p class="w it" style="left:1045px;top:664px">$</p>
<p class="w n it" style="left:1044px;width:80px;top:664px">250.00</p>
<p class="w it" style="left:1225px;top:664px">$</p>
<p class="w n it" style="left:1224px;width:80px;top:664px">250.00</p>
<p class="w it" style="left:1405px;top:664px">$</p>
<p class="w n it" style="left:1404px;width:80px;top:664px">1,700.00</p>
<p class="w it" style="left:1585px;top:664px">$</p>
<p class="w n it" style="left:1584px;width:80px;top:664px">1,700.00</p>
<p class="w B" style="left:1675px;top:664px">$</p>
<p class="w n B" style="left:1690px;width:80px;top:664px">2,350.00</p>
<p class="w L W" style="top:682px">Mobile Alerts</p>
<p class="w em" style="left:508px;top:682px">$</p>
<div class="ds" style="left:578px;top:691px"></div>
<p class="w it" style="left:775px;top:682px">$</p>
<p class="w n it" style="left:774px;width:80px;top:682px">150.00</p>
<p class="w it" style="left:865px;top:682px">$</p>
<p class="w n it" style="left:864px;width:80px;top:682px">150.00</p>
<p class="w it" style="left:1135px;top:682px">$</p>
<p class="w n it" style="left:1134px;width:80px;top:682px">150.00</p>
<p class="w it" style="left:1225px;top:682px">$</p>
<p class="w n it" style="left:1224px;width:80px;top:682px">150.00</p>
<p class="w em" style="left:1588px;top:682px">$</p>
<div class="ds" style="left:1658px;top:691px"></div>
<p class="w B" style="left:1675px;top:682px">$</p>
<p class="w n B" style="left:1690px;width:80px;top:682px">300.00</p>
<p class="w L W" style="top:700px">Email Newsletter</p>
<p class="w it" style="left:415px;top:700px">$</p>
<p class="w n it" style="left:414px;width:80px;top:700px">200.00</p>
<p class="w it" style="left:505px;top:700px">$</p>
<p class="w n it" style="left:504px;width:80px;top:700px">200.00</p>
<p class="w em" style="left:868px;top:700px">$</p>
<div class="ds" style="left:938px;top:709px"></div>
<p class="w em" style="left:1228px;top:700px">$</p>
<div class="ds" style="left:1298px;top:709px"></div>
<p class="w it" style="left:1495px;top:700px">$</p>
<p class="w n it" style="left:1494px;width:80px;top:700px">200.00</p>
<p class="w it" style="left:1585px;top:700px">$</p>
<p class="w n it" style="left:1584px;width:80px;top:700px">200.00</p>
<p class="w B" style="left:1675px;top:700px">$</p>
<p class="w n B" style="left:1690px;width:80px;top:700px">400.00</p>
<p class="w em" style="left:508px;top:718px">$</p>
<div class="ds" style="left:578px;top:727px"></div>
<p class="w em" style="left:868px;top:718px">$</p>
<div class="ds" style="left:938px;top:727px"></div>
<p class="w em" style="left:1228px;top:718px">$</p>
<div class="ds" style="left:1298px;top:727px"></div>
<p class="w em" style="left:1588px;top:718px">$</p>
<div class="ds" style="left:1658px;top:727px"></div>
<p class="w B" style="left:1675px;top:718px">$</p>
<p class="w B" style="left:1753px;top:718px">-</p>
<p class="w L B" style="top:736px">Advertising</p>
<p class="w bt" style="left:236px;top:736px">$</p>
<p class="w n bt" style="left:234px;width:80px;top:736px">3,350.00</p>
<p class="w bt" style="left:329px;top:736px">$</p>
<p class="w bt" style="left:396px;top:736px">-</p>
<p class="w bt" style="left:419px;top:736px">$</p>
<p class="w bt" style="left:486px;top:736px">-</p>
<p class="w bt" style="left:506px;top:736px">$</p>
<p class="w n bt" style="left:504px;width:80px;top:736px">3,350.00</p>
<p class="w gt" style="left:596px;top:736px">$</p>
<p class="w n gt" style="left:594px;width:80px;top:736px">3,350.00</p>
<p class="w gt" style="left:689px;top:736px">$</p>
<p class="w gt" style="left:756px;top:736px">-</p>
<p class="w gt" style="left:779px;top:736px">$</p>
<p class="w gt" style="left:846px;top:736px">-</p>
<p class="w gt" style="left:866px;top:736px">$</p>
<p class="w n gt" style="left:864px;width:80px;top:736px">3,350.00</p>
<p class="w bt" style="left:956px;top:736px">$</p>
<p class="w n bt" style="left:954px;width:80px;top:736px">3,350.00</p>
<p class="w bt" style="left:1049px;top:736px">$</p>
<p class="w bt" style="left:1116px;top:736px">-</p>
<p class="w bt" style="left:1139px;top:736px">$</p>
<p class="w bt" style="left:1206px;top:736px">-</p>
<p class="w bt" style="left:1226px;top:736px">$</p>
<p class="w n bt" style="left:1224px;width:80px;top:736px">3,350.00</p>
<p class="w gt" style="left:1316px;top:736px">$</p>
<p class="w n gt" style="left:1314px;width:80px;top:736px">3,350.00</p>
<p class="w gt" style="left:1409px;top:736px">$</p>
<p class="w gt" style="left:1476px;top:736px">-</p>
<p class="w gt" style="left:1499px;top:736px">$</p>
<p class="w gt" style="left:1566px;top:736px">-</p>
<p class="w gt" style="left:1586px;top:736px">$</p>
<p class="w n gt" style="left:1584px;width:80px;top:736px">3,350.00</p>
<p class="w B" style="left:1676px;top:736px">$</p>
<p class="w n B" style="left:1690px;width:80px;top:736px">13,400.00</p>
<p class="w L W" style="top:754px">Online</p>
<p class="w it" style="left:235px;top:754px">$</p>
<p class="w n it" style="left:234px;width:80px;top:754px">2,500.00</p>
<p class="w it" style="left:505px;top:754px">$</p>
<p class="w n it" style="left:504px;width:80px;top:754px">2,500.00</p>
<p class="w it" style="left:595px;top:754px">$</p>
<p class="w n it" style="left:594px;width:80px;top:754px">2,500.00</p>
<p class="w it" style="left:865px;top:754px">$</p>
<p class="w n it" style="left:864px;width:80px;top:754px">2,500.00</p>
<p class="w it" style="left:955px;top:754px">$</p>
<p class="w n it" style="left:954px;width:80px;top:754px">2,500.00</p>
<p class="w it" style="left:1225px;top:754px">$</p>
<p class="w n it" style="left:1224px;width:80px;top:754px">2,500.00</p>
<p class="w it" style="left:1315px;top:754px">$</p>
<p class="w n it" style="left:1314px;width:80px;top:754px">2,500.00</p>
<p class="w it" style="left:1585px;top:754px">$</p>
<p class="w n it" style="left:1584px;width:80px;top:754px">2,500.00</p>
<p class="w B" style="left:1675px;top:754px">$</p>
<p class="w n B" style="left:1690px;width:80px;top:754px">10,000.00</p>
<p class="w L W" style="top:772px">Print</p>
<p class="w it" style="left:235px;top:772px">$</p>
<p class="w n it" style="left:234px;width:80px;top:772px">850.00</p>
<p class="w it" style="left:505px;top:772px">$</p>
<p class="w n it" style="left:504px;width:80px;top:772px">850.00</p>
<p class="w it" style="left:595px;top:772px">$</p>
<p class="w n it" style="left:594px;width:80px;top:772px">850.00</p>
<p class="w it" style="left:865px;top:772px">$</p>
<p class="w n it" style="left:864px;width:80px;top:772px">850.00</p>
<p class="w it" style="left:955px;top:772px">$</p>
<p class="w n it" style="left:954px;width:80px;top:772px">850.00</p>
<p class="w it" style="left:1225px;top:772px">$</p>
<p class="w n it" style="left:1224px;width:80px;top:772px">850.00</p>
<p class="w it" style="left:1315px;top:772px">$</p>
<p class="w n it" style="left:1314px;width:80px;top:772px">850.00</p>
<p class="w it" style="left:1585px;top:772px">$</p>
<p class="w n it" style="left:1584px;width:80px;top:772px">850.00</p>
<p class="w B" style="left:1675px;top:772px">$</p>
<p class="w n B" style="left:1690px;width:80px;top:772px">3,400.00</p>
<p class="w L W" style="top:790px">Outdoor</p>
<p class="w em" style="left:508px;top:790px">$</p>
<div class="ds" style="left:578px;top:799px"></div>
<p class="w em" style="left:868px;top:790px">$</p>
<div class="ds" style="left:938px;top:799px"></div>
<p class="w em" style="left:1228px;top:790px">$</p>
<div class="ds" style="left:1298px;top:799px"></div>
<p class="w em" style="left:1588px;top:790px">$</p>
<div class="ds" style="left:1658px;top:799px"></div>
<p class="w B" style="left:1675px;top:790px">$</p>
<p class="w B" style="left:1753px;top:790px">-</p>
<p class="w L W" style="top:808px">Radio</p>
<p class="w em" style="left:508px;top:808px">$</p>
<div class="ds" style="left:578px;top:817px"></div>
<p class="w em" style="left:868px;top:808px">$</p>
<div class="ds" style="left:938px;top:817px"></div>
<p class="w em" style="left:1228px;top:808px">$</p>
<div class="ds" style="left:1298px;top:817px"></div>
<p class="w em" style="left:1588px;top:808px">$</p>
<div class="ds" style="left:1658px;top:817px"></div>
<p class="w B" style="left:1675px;top:808px">$</p>
<p class="w B" style="left:1753px;top:808px">-</p>
<p class="w L W" style="top:826px">Television</p>
<p class="w em" style="left:508px;top:826px">$</p>
<div class="ds" style="left:578px;top:835px"></div>
<p class="w em" style="left:868px;top:826px">$</p>
<div class="ds" style="left:938px;top:835px"></div>
<p class="w em" style="left:1228px;top:826px">$</p>
<div class="ds" style="left:1298px;top:835px"></div>
<p class="w em" style="left:1588px;top:826px">$</p>
<div class="ds" style="left:1658px;top:835px"></div>
<p class="w B" style="left:1675px;top:826px">$</p>
<p class="w B" style="left:1753px;top:826px">-</p>
<p class="w em" style="left:508px;top:844px">$</p>
<div class="ds" style="left:578px;top:853px"></div>
<p class="w em" style="left:868px;top:844px">$</p>
<div class="ds" style="left:938px;top:853px"></div>
<p class="w em" style="left:1228px;top:844px">$</p>
<div class="ds" style="left:1298px;top:853px"></div>
<p class="w em" style="left:1588px;top:844px">$</p>
<div class="ds" style="left:1658px;top:853px"></div>
<p class="w B" style="left:1675px;top:844px">$</p>
<p class="w B" style="left:1753px;top:844px">-</p>
<p class="w em" style="left:508px;top:862px">$</p>
<div class="ds" style="left:578px;top:871px"></div>
<p class="w em" style="left:868px;top:862px">$</p>
<div class="ds" style="left:938px;top:871px"></div>
<p class="w em" style="left:1228px;top:862px">$</p>
<div class="ds" style="left:1298px;top:871px"></div>
<p class="w em" style="left:1588px;top:862px">$</p>
<div class="ds" style="left:1658px;top:871px"></div>
<p class="w B" style="left:1675px;top:862px">$</p>
<p class="w B" style="left:1753px;top:862px">-</p>
<p class="T" style="left:15px;top:879px">TOTALS</p>
<p class="T" style="left:235px;top:879px">$</p>
<p class="T n" style="left:223px;width:90px;top:879px">23,285.00</p>
<p class="T" style="left:325px;top:879px">$</p>
<p class="T n" style="left:313px;width:90px;top:879px">3,110.00</p>
<p class="T" style="left:415px;top:879px">$</p>
<p class="T n" style="left:403px;width:90px;top:879px">5,000.00</p>
<p class="T" style="left:505px;top:879px">$</p>
<p class="T n" style="left:493px;width:90px;top:879px">31,395.00</p>
<p class="T" style="left:595px;top:879px">$</p>
<p class="T n" style="left:583px;width:90px;top:879px">16,550.00</p>
<p class="T" style="left:685px;top:879px">$</p>
<p class="T n" style="left:673px;width:90px;top:879px">1,700.00</p>
<p class="T" style="left:775px;top:879px">$</p>
<p class="T n" style="left:763px;width:90px;top:879px">1,150.00</p>
<p class="T" style="left:865px;top:879px">$</p>
<p class="T n" style="left:853px;width:90px;top:879px">19,400.00</p>
<p class="T" style="left:955px;top:879px">$</p>
<p class="T n" style="left:943px;width:90px;top:879px">16,885.00</p>
<p class="T" style="left:1045px;top:879px">$</p>
<p class="T n" style="left:1033px;width:90px;top:879px">3,160.00</p>
<p class="T" style="left:1135px;top:879px">$</p>
<p class="T n" style="left:1123px;width:90px;top:879px">7,450.00</p>
<p class="T" style="left:1225px;top:879px">$</p>
<p class="T n" style="left:1213px;width:90px;top:879px">27,495.00</p>
<p class="T" style="left:1315px;top:879px">$</p>
<p class="T n" style="left:1303px;width:90px;top:879px">17,450.00</p>
<p class="T" style="left:1405px;top:879px">$</p>
<p class="T n" style="left:1393px;width:90px;top:879px">3,000.00</p>
<p class="T" style="left:1495px;top:879px">$</p>
<p class="T n" style="left:1483px;width:90px;top:879px">7,000.00</p>
<p class="T" style="left:1585px;top:879px">$</p>
<p class="T n" style="left:1573px;width:90px;top:879px">27,450.00</p>
<p class="T" style="color:#111;left:1678px;top:879px">$</p>
<p class="T n" style="color:#111;left:1678px;width:90px;top:879px">105,740.00</p>
</body></html>
